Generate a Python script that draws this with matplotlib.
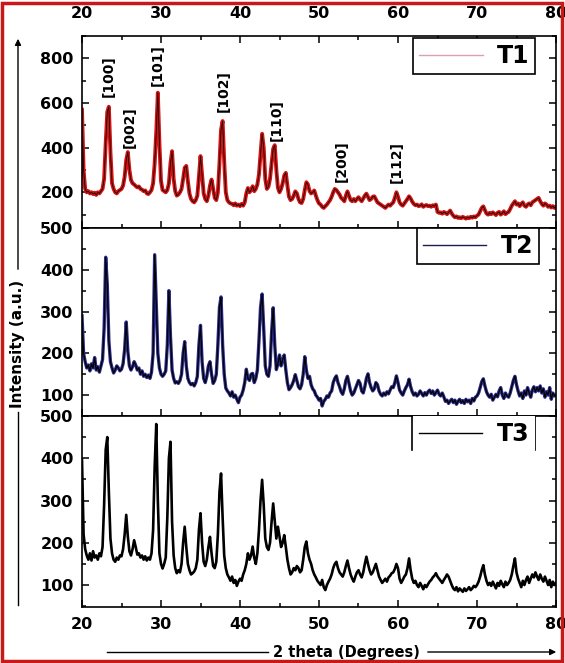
import numpy as np
import matplotlib.pyplot as plt
from matplotlib.lines import Line2D
from matplotlib.patches import Rectangle, FancyArrowPatch
from matplotlib.ticker import MultipleLocator

plt.rcParams['font.family'] = 'DejaVu Sans'
plt.rcParams['font.weight'] = 'bold'

# 2 theta grid, 0.2 deg step (20 ... 80)
two_theta = np.round(np.arange(20, 80.001, 0.2), 1)

# intensities, one row = 2 degrees
t1 = [570, 300, 215, 200, 205, 195, 200, 192, 198, 188,
      200, 195, 205, 215, 260, 420, 560, 583, 380, 240,
      215, 200, 195, 205, 210, 215, 230, 270, 345, 380,
      300, 255, 240, 235, 228, 222, 226, 215, 212, 205,
      208, 195, 192, 200, 210, 240, 330, 470, 646, 420,
      250, 210, 205, 200, 210, 240, 330, 384, 260, 205,
      185, 190, 200, 215, 260, 310, 318, 250, 195, 170,
      160, 155, 165, 185, 270, 362, 280, 195, 170, 160,
      185, 230, 257, 215, 175, 165, 200, 330, 480, 519,
      340, 200, 165, 155, 150, 148, 142, 150, 140, 145,
      138, 148, 140, 155, 195, 219, 200, 210, 227, 205,
      215, 235, 280, 370, 462, 400, 260, 215, 225, 260,
      330, 395, 411, 300, 220, 200, 215, 240, 275, 287,
      230, 180, 165, 170, 185, 204, 195, 170, 155, 152,
      170, 210, 245, 235, 205, 195, 200, 208, 185, 165,
      150, 145, 135, 130, 138, 145, 155, 165, 180, 200,
      215, 210, 200, 190, 175, 168, 160, 185, 204, 185,
      165, 160, 170, 160, 170, 178, 168, 160, 172, 185,
      194, 180, 165, 170, 180, 182, 168, 155, 150, 145,
      140, 135, 130, 138, 145, 140, 148, 155, 175, 200,
      180, 155, 145, 140, 150, 160, 170, 182, 172, 158,
      148, 142, 145, 138, 140, 146, 135, 140, 143, 138,
      140, 135, 142, 138, 145, 112, 108, 110, 104, 112,
      108, 102, 110, 118, 105, 95, 88, 92, 85, 88,
      84, 90, 86, 82, 88, 84, 90, 86, 92, 88,
      95, 100, 115, 130, 137, 120, 105, 100, 108, 102,
      110, 104, 98, 108, 112, 100, 106, 115, 102, 108,
      112, 125, 140, 150, 160, 145, 150, 138, 148, 155,
      140, 135, 145, 150, 142, 155, 160, 165, 170, 175,
      160, 148, 140, 150, 145, 135, 140, 132, 138, 130,
      135]

t2 = [290, 200, 180, 165, 172, 158, 175, 165, 190, 160,
      168, 155, 170, 185, 260, 430, 365, 230, 180, 165,
      153, 160, 170, 165, 158, 162, 175, 210, 275, 205,
      170, 160, 168, 180, 172, 160, 165, 150, 158, 145,
      150, 142, 148, 140, 155, 200, 436, 314, 200, 165,
      150, 145, 150, 158, 220, 350, 240, 160, 140, 129,
      132, 128, 135, 150, 200, 228, 170, 140, 130, 125,
      128, 122, 130, 145, 220, 267, 180, 140, 130, 145,
      170, 180, 150, 128, 135, 150, 220, 310, 335, 220,
      150, 117, 110, 105, 98, 108, 95, 100, 90, 82,
      95, 100, 112, 130, 162, 140, 135, 150, 152, 130,
      140, 160, 230, 310, 342, 260, 170, 150, 145, 170,
      250, 309, 220, 161, 175, 196, 170, 185, 196, 160,
      130, 113, 118, 125, 135, 149, 135, 120, 115, 125,
      150, 192, 160, 140, 145, 125, 115, 110, 100, 95,
      88, 92, 74, 85, 90, 98, 95, 105, 110, 130,
      140, 146, 130, 120, 108, 102, 115, 135, 145, 128,
      110, 100, 105, 115, 125, 135, 128, 110, 105, 120,
      140, 151, 130, 118, 110, 115, 130, 125, 110, 102,
      98, 105, 100, 108, 103, 112, 120, 118, 130, 146,
      130, 112, 105, 100, 110, 118, 125, 138, 120, 108,
      100, 105, 98, 102, 110, 104, 98, 106, 100, 108,
      112, 104, 110, 100, 106, 112, 102, 98, 105, 96,
      85, 88, 80, 86, 90, 82, 88, 78, 85, 90,
      82, 87, 80, 90, 84, 88, 80, 92, 86, 95,
      98, 105, 118, 132, 139, 122, 108, 100, 95, 102,
      88, 95, 102, 96, 110, 118, 100, 92, 105, 98,
      95, 105, 120, 135, 145, 125, 110, 98, 105, 92,
      110, 100, 118, 105, 95, 112, 120, 108, 118, 110,
      122, 105, 115, 95, 108, 100, 118, 90, 105, 98,
      100]

t3 = [396, 220, 185, 170, 160, 175, 158, 180, 165, 170,
      160, 175, 168, 190, 290, 420, 450, 320, 210, 175,
      160, 155, 165, 160, 170, 168, 185, 220, 266, 215,
      180, 170, 185, 206, 190, 172, 175, 165, 170, 160,
      168, 158, 165, 160, 175, 230, 380, 481, 300, 175,
      150, 139, 150, 165, 260, 400, 439, 250, 170, 140,
      128, 135, 130, 150, 200, 238, 190, 150, 135, 125,
      128, 132, 140, 160, 230, 270, 200, 155, 145, 160,
      190, 214, 175, 145, 140, 155, 220, 320, 364, 260,
      170, 140, 125, 118, 110, 120, 105, 112, 98, 108,
      115, 110, 125, 135, 150, 175, 160, 170, 191, 165,
      150, 175, 230, 300, 349, 290, 210, 190, 183, 200,
      250, 293, 250, 210, 238, 215, 190, 200, 218, 190,
      160, 140, 125, 130, 140, 135, 145, 140, 130, 135,
      160, 190, 203, 175, 160, 150, 135, 125, 118, 110,
      105, 100, 112, 95, 88, 100, 108, 115, 125, 140,
      150, 155, 140, 130, 125, 120, 130, 145, 158, 140,
      125, 115, 108, 120, 130, 135, 125, 118, 130, 150,
      167, 150, 135, 125, 130, 140, 150, 135, 120, 112,
      105, 110, 115, 108, 118, 122, 128, 130, 138, 150,
      140, 115, 105, 112, 120, 125, 140, 163, 135, 115,
      105, 110, 100, 95, 105, 98, 90, 100, 95, 102,
      108, 112, 118, 122, 128, 120, 115, 110, 105, 112,
      118, 125, 120, 110, 100, 92, 88, 95, 85, 92,
      88, 84, 92, 86, 90, 95, 88, 92, 98, 95,
      100, 108, 120, 135, 147, 125, 110, 100, 105, 98,
      108, 100, 92, 105, 98, 110, 102, 95, 108, 100,
      105, 112, 125, 145, 163, 130, 115, 105, 95, 110,
      100, 112, 120, 105, 115, 125, 118, 130, 120, 112,
      125, 115, 108, 120, 110, 100, 112, 95, 108, 100,
      105]

# peak indexing for T1
hkl_labels = ['[100]', '[002]', '[101]', '[102]', '[110]', '[200]', '[112]']
hkl_x = [23.4, 26.0, 29.6, 37.9, 44.6, 52.9, 59.8]
hkl_y = [625, 400, 675, 560, 430, 245, 240]

W_PX, H_PX = 565, 663


def fx(px):
    return px / W_PX


def fy(py):
    return 1 - py / H_PX


fig = plt.figure(figsize=(5.65, 6.63), dpi=100)
left, width = fx(82), 474 / W_PX
ax1 = fig.add_axes([left, fy(228), width, 192 / H_PX])
ax2 = fig.add_axes([left, fy(416), width, 188 / H_PX])
ax3 = fig.add_axes([left, fy(607), width, 191 / H_PX])

# T1: red trace with dark core
ax1.plot(two_theta, t1, color='#d41414', lw=2.8)
ax1.plot(two_theta, t1, color='black', lw=0.55)
ax2.plot(two_theta, t2, color='#2c2c8c', lw=2.4)
ax2.plot(two_theta, t2, color='black', lw=0.9)
ax3.plot(two_theta, t3, color='black', lw=1.9)

ax1.set_ylim(40, 900)
ax2.set_ylim(50, 500)
ax3.set_ylim(48, 500)
ax1.yaxis.set_major_locator(MultipleLocator(200))
ax1.yaxis.set_minor_locator(MultipleLocator(100))
for ax in (ax2, ax3):
    ax.yaxis.set_major_locator(MultipleLocator(100))
    ax.yaxis.set_minor_locator(MultipleLocator(50))

for ax in (ax1, ax2, ax3):
    ax.set_xlim(20, 80)
    ax.xaxis.set_major_locator(MultipleLocator(10))
    ax.xaxis.set_minor_locator(MultipleLocator(5))
    ax.tick_params(which='both', direction='in', right=True, top=False,
                   labelsize=11.5, width=1.1, pad=6)
    ax.tick_params(which='major', length=5)
    ax.tick_params(which='minor', length=3)
    for s in ax.spines.values():
        s.set_linewidth(1.2)

ax1.tick_params(axis='x', which='both', top=True, labeltop=True, labelbottom=False, pad=11)
ax2.tick_params(axis='x', labelbottom=False)
ax3.tick_params(axis='x', pad=7)

for lab, x, y in zip(hkl_labels, hkl_x, hkl_y):
    ax1.text(x, y, lab, rotation=90, ha='center', va='bottom', fontsize=10)

# legends
leg_kw = dict(loc='upper right', borderaxespad=0, fancybox=False, edgecolor='black',
              fontsize=17, handlelength=2.7, handletextpad=0.6, borderpad=0.25,
              framealpha=1)
leg1 = ax1.legend([Line2D([], [], color='#d8a0b0', lw=1)], ['T1'],
                  bbox_to_anchor=(0.956, 0.99), **leg_kw)
leg2 = ax2.legend([Line2D([], [], color='#1c1c50', lw=1)], ['T2'],
                  bbox_to_anchor=(0.964, 1.0), **leg_kw)
leg3 = ax3.legend([Line2D([], [], color='black', lw=1)], ['T3'],
                  bbox_to_anchor=(0.956, 1.0), **leg_kw)
for lg in (leg1, leg2):
    lg.get_frame().set_linewidth(1.2)
leg3.get_frame().set_linewidth(0)
for xa in (0.697, 0.956):
    ax3.plot([xa, xa], [1.0, 0.82], transform=ax3.transAxes, color='black', lw=1.2)

# axis titles with arrows
fig.text(fx(18), fy(344), 'Intensity (a.u.)', rotation=90, ha='center', va='center', fontsize=11)
fig.add_artist(Line2D([fx(18), fx(18)], [fy(605), fy(412)], color='black', lw=1))
fig.add_artist(FancyArrowPatch((fx(18), fy(272)), (fx(18), fy(36)), transform=fig.transFigure,
                               arrowstyle='-|>', mutation_scale=9, color='black', lw=1))
fig.text(fx(346), fy(652), '2 theta (Degrees)', ha='center', va='center', fontsize=10.5)
fig.add_artist(Line2D([fx(107), fx(268)], [fy(652), fy(652)], color='black', lw=1))
fig.add_artist(FancyArrowPatch((fx(425), fy(652)), (fx(559), fy(652)), transform=fig.transFigure,
                               arrowstyle='-|>', mutation_scale=9, color='black', lw=1))

# red frame round the whole picture
fig.add_artist(Rectangle((0.004, 0.003), 0.991, 0.993, transform=fig.transFigure,
                         fill=False, edgecolor='#c81818', lw=2.5))

fig.savefig('out.png', dpi=100)
